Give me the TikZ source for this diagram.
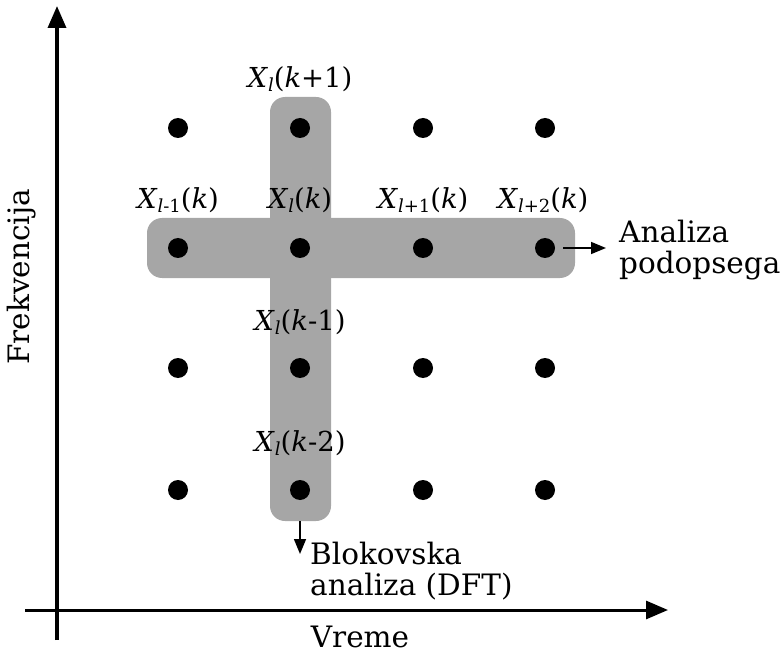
\documentclass[tikz,border=0pt]{standalone}
\usepackage{fontspec}
\setmainfont{DejaVu Serif}
\usetikzlibrary{arrows.meta}
\newcommand{\Xs}[1]{\textit{X}\raisebox{-0.3ex}{\fontsize{18}{18}\selectfont #1}}
\begin{document}
\begin{tikzpicture}[x=1pt,y=-1pt,
  bar/.style={fill=black!35, draw=none, rounded corners=15pt, inner sep=0pt},
  dot/.style={circle, fill=black, minimum size=20pt, inner sep=0pt},
  lbl/.style={font=\fontsize{27.5}{31}\selectfont, inner sep=0pt},
  txt/.style={font=\fontsize{29.5}{31}\selectfont, inner sep=0pt, align=left},
  axis/.style={line width=3.5pt, -{Triangle[length=22pt,width=18pt]}},
  small/.style={line width=1.5pt, -{Triangle[length=15pt,width=12pt]}}]
\useasboundingbox (0,0) rectangle (782,655);
% bars
\node[bar, minimum width=61pt, minimum height=424pt] (vbar) at (300.5,309) {};
\node[bar, minimum width=428pt, minimum height=60pt] (hbar) at (361,248) {};
% axes
\coordinate (ybot) at (57,640);
\coordinate (ytop) at (57,6);
\coordinate (xl) at (25,610);
\coordinate (xr) at (668,610);
\draw[axis] (ybot) -- (ytop);
\draw[axis, line width=3pt] (xl) -- (xr);
% dots
\foreach \c/\x in {1/178,2/300,3/423,4/545}{
  \foreach \r/\y in {1/128,2/248,3/368,4/490}{
    \node[dot] (d\r\c) at (\x,\y) {};
  }
}
% labels
\node[lbl] (l1) at (300,79) {\Xs{\textit{l}}(\textit{k}+1)};
\node[lbl] (l2) at (178,200) {\Xs{\textit{l}-1}(\textit{k})};
\node[lbl] (l3) at (300,200) {\Xs{\textit{l}}(\textit{k})};
\node[lbl] (l4) at (423,200) {\Xs{\textit{l}+1}(\textit{k})};
\node[lbl] (l5) at (543,200) {\Xs{\textit{l}+2}(\textit{k})};
\node[lbl] (l6) at (300,322) {\Xs{\textit{l}}(\textit{k}-1)};
\node[lbl] (l7) at (300,443) {\Xs{\textit{l}}(\textit{k}-2)};
% side texts
\node[txt, anchor=west] (ap) at (619,250) {Analiza\\podopsega};
\node[txt, anchor=north west] (bl) at (310,542) {Blokovska\\analiza (DFT)};
\node[txt] (vr) at (360,637) {Vreme};
\node[txt, rotate=90] (fr) at (22,277) {Frekvencija};
% small arrows
\coordinate (a1) at (563,248);
\coordinate (a2) at (606,248);
\coordinate (b1) at (300,521);
\coordinate (b2) at (300,554);
\draw[small] (a1) -- (a2);
\draw[small] (b1) -- (b2);
\end{tikzpicture}
\end{document}
